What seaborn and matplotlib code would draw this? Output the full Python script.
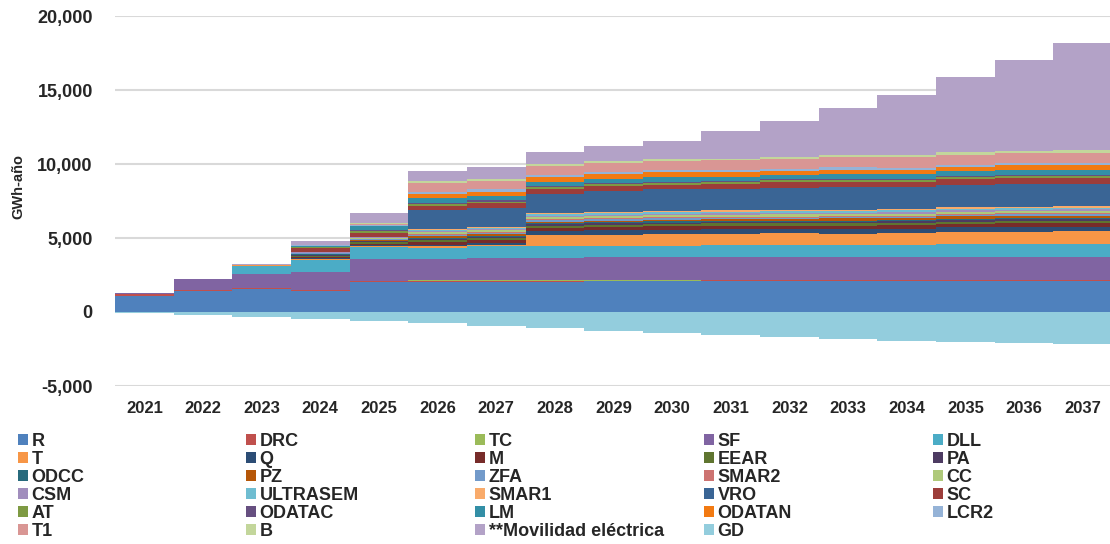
import pandas as pd
import seaborn as sns
import matplotlib.pyplot as plt
from matplotlib.patches import Patch
from matplotlib.ticker import FuncFormatter

# years on the category axis
years = list(range(2021, 2038))

# GWh-año per series, stacked bottom -> top
R = [1100, 1420, 1550, 1420, 2040, 2060, 2060, 2060, 2070, 2080, 2090, 2090, 2100, 2100, 2100, 2100, 2100]
DRC = [90, 60, 50, 40, 40, 40, 40, 40, 40, 40, 40, 40, 40, 40, 40, 40, 40]
TC = [0, 0, 0, 20, 30, 30, 30, 40, 40, 40, 40, 40, 40, 40, 40, 40, 40]
SF = [90, 750, 990, 1220, 1460, 1430, 1530, 1540, 1540, 1540, 1540, 1540, 1530, 1540, 1550, 1560, 1570]
DLL = [0, 0, 500, 790, 790, 790, 790, 760, 760, 780, 830, 840, 840, 840, 850, 860, 860]
T = [0, 0, 60, 90, 90, 90, 90, 760, 760, 770, 760, 760, 740, 760, 800, 820, 830]
Q = [0, 0, 0, 60, 80, 100, 120, 280, 300, 310, 310, 310, 320, 320, 330, 330, 330]
M = [0, 0, 0, 70, 90, 200, 210, 200, 220, 220, 220, 220, 230, 230, 240, 240, 240]
EEAR = [0, 0, 40, 80, 90, 130, 130, 150, 150, 160, 150, 160, 160, 160, 160, 160, 160]
PA = [0, 0, 0, 80, 60, 90, 90, 90, 100, 100, 100, 100, 100, 100, 110, 110, 110]
ODCC = [0, 0, 0, 30, 40, 70, 70, 90, 90, 90, 80, 80, 80, 80, 70, 70, 70]
PZ = [0, 0, 0, 30, 60, 100, 100, 100, 110, 120, 120, 120, 140, 140, 170, 170, 170]
ZFA = [0, 0, 0, 30, 40, 70, 70, 80, 80, 80, 80, 80, 80, 80, 90, 100, 90]
SMAR2 = [0, 0, 0, 30, 40, 70, 70, 90, 80, 80, 70, 70, 70, 70, 70, 70, 70]
CC = [0, 0, 0, 30, 60, 120, 120, 120, 130, 140, 140, 140, 150, 140, 160, 160, 160]
CSM = [0, 0, 0, 20, 30, 70, 80, 90, 90, 90, 90, 90, 90, 90, 90, 90, 90]
ULTRASEM = [0, 0, 0, 10, 30, 90, 90, 120, 130, 130, 130, 130, 130, 130, 120, 120, 120]
SMAR1 = [0, 0, 0, 0, 10, 50, 50, 80, 80, 80, 80, 80, 80, 80, 80, 80, 80]
VRO = [0, 0, 0, 0, 0, 1280, 1300, 1310, 1420, 1450, 1470, 1520, 1500, 1510, 1540, 1550, 1540]
SC = [0, 0, 0, 270, 270, 300, 300, 300, 300, 300, 320, 360, 360, 360, 360, 370, 370]
AT = [0, 0, 0, 50, 120, 120, 120, 130, 130, 130, 120, 120, 130, 130, 130, 130, 130]
ODATAC = [0, 0, 0, 40, 60, 80, 80, 80, 80, 80, 70, 70, 80, 70, 80, 80, 80]
LM = [0, 0, 0, 60, 250, 300, 300, 300, 320, 320, 300, 290, 330, 320, 330, 340, 340]
ODATAN = [0, 0, 0, 0, 60, 280, 280, 300, 300, 300, 280, 300, 300, 280, 300, 310, 320]
LCR2 = [0, 0, 0, 30, 60, 160, 160, 150, 150, 150, 140, 140, 150, 140, 150, 150, 150]
T1 = [0, 0, 0, 0, 50, 610, 600, 580, 600, 620, 680, 630, 680, 720, 680, 700, 700]
B = [0, 0, 0, 60, 70, 120, 120, 140, 140, 140, 120, 160, 140, 130, 160, 140, 160]
MOV = [0, 0, 20, 220, 680, 700, 790, 830, 1010, 1220, 1840, 2430, 3180, 4090, 5100, 6110, 7250]
GD = [-60, -200, -330, -460, -590, -770, -920, -1100, -1280, -1420, -1580, -1710, -1850, -1940, -2030, -2090, -2180]

names = ["R", "DRC", "TC", "SF", "DLL", "T", "Q", "M", "EEAR", "PA", "ODCC", "PZ", "ZFA",
         "SMAR2", "CC", "CSM", "ULTRASEM", "SMAR1", "VRO", "SC", "AT", "ODATAC", "LM",
         "ODATAN", "LCR2", "T1", "B", "**Movilidad eléctrica"]
values = [R, DRC, TC, SF, DLL, T, Q, M, EEAR, PA, ODCC, PZ, ZFA, SMAR2, CC, CSM, ULTRASEM,
          SMAR1, VRO, SC, AT, ODATAC, LM, ODATAN, LCR2, T1, B, MOV]
colors = ["#4F81BD", "#C0504D", "#9BBB59", "#8064A2", "#4BACC6", "#F79646", "#2C4D75",
          "#772C2A", "#5F7530", "#4D3B62", "#276A7C", "#B65708", "#729ACA", "#CD7371",
          "#AFC97A", "#A18EBD", "#6FBDD1", "#F9AB6B", "#3A6595", "#9C3D3A", "#7E9A43",
          "#664F80", "#338FA6", "#F27A12", "#95B3D7", "#D99694", "#C3D69B", "#B3A2C7"]
gd_color = "#93CDDD"

rows = []
for name, vals in zip(names, values):
    for y, v in zip(years, vals):
        rows.append({"year": y, "serie": name, "value": v})
df = pd.DataFrame(rows)
palette = dict(zip(names, colors))

sns.set_theme(style="white")
plt.rcParams["font.family"] = ["Liberation Sans", "DejaVu Sans"]

fig = plt.figure(figsize=(11.1, 5.44), dpi=100)
ax = fig.add_axes([115 / 1110, 1 - 386 / 544, 997 / 1110, 370 / 544])

# seaborn puts the first hue level on top of a stack, so reverse the order
sns.histplot(data=df, x="year", weights="value", hue="serie", hue_order=names[::-1],
             multiple="stack", discrete=True, shrink=1, element="step", fill=True,
             palette=palette, alpha=1, linewidth=0, legend=False, ax=ax)
gd_df = pd.DataFrame({"year": years, "value": GD})
sns.histplot(data=gd_df, x="year", weights="value", discrete=True, shrink=1,
             element="step", fill=True, color=gd_color, alpha=1, linewidth=0, ax=ax)

ax.set_xlim(2020.5, 2037.5)
ax.set_ylim(-5000, 20000)
ax.set_yticks(range(-5000, 20001, 5000))
ax.yaxis.set_major_formatter(FuncFormatter(lambda v, p: f"{int(v):,}"))
ax.set_xticks(years)
ax.set_xticklabels([str(y) for y in years])
ax.grid(axis="y", color="#D9D9D9", linewidth=1.5)
ax.grid(axis="x", visible=False)
ax.set_axisbelow(True)
for s in ax.spines.values():
    s.set_visible(False)
ax.tick_params(axis="both", length=0)
ax.tick_params(axis="y", pad=16, labelsize=13)
ax.tick_params(axis="x", pad=11, labelsize=12)
for lab in ax.get_xticklabels() + ax.get_yticklabels():
    lab.set_fontweight("bold")
ax.set_xlabel("")
ax.set_ylabel("GWh-año", fontsize=10.5, fontweight="bold")
ax.yaxis.set_label_coords(-0.090, 0.54)

# legend: 5 columns filled row by row
leg_names = names + ["GD"]
leg_colors = colors + [gd_color]
col_x = [18, 246, 475, 704, 933]
for c in range(5):
    idx = [r * 5 + c for r in range(6) if r * 5 + c < len(leg_names)]
    handles = [Patch(facecolor=leg_colors[i], edgecolor="none") for i in idx]
    labels = [leg_names[i] for i in idx]
    fig.legend(handles, labels, loc="upper left", bbox_to_anchor=(col_x[c] / 1110, 1 - 433 / 544),
               frameon=False, borderpad=0, borderaxespad=0, handlelength=0.55, handleheight=0.55,
               handletextpad=0.2, labelspacing=0.05, prop={"size": 13, "weight": "bold"})

fig.savefig("out.png", dpi=100)
